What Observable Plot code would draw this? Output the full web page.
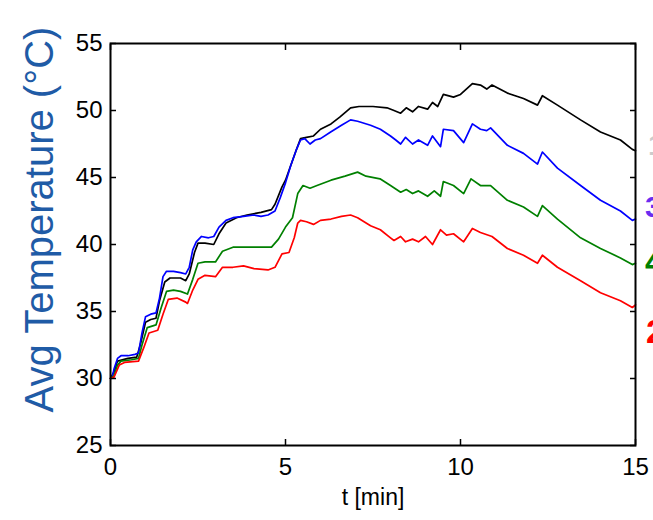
<!DOCTYPE html>
<html>
<head>
<meta charset="utf-8">
<script src="https://cdn.jsdelivr.net/npm/d3@7"></script>
<script src="https://cdn.jsdelivr.net/npm/@observablehq/plot@0.6"></script>
<style>
  html, body { margin: 0; padding: 0; background: #fff; }
  #wrap { position: relative; width: 653px; height: 520px; overflow: hidden; font-family: Arial, "Liberation Sans", sans-serif; }
  .frag { position: absolute; font-weight: bold; line-height: 1; white-space: nowrap; }
</style>
</head>
<body>
<div id="wrap"></div>
<script>
// ---- data ----
const xLabel = "t [min]";
const yLabel = "Avg Temperature (°C)";
const xTicks = [0, 5, 10, 15];
const yTicks = [25, 30, 35, 40, 45, 50, 55];
const seriesNames = ["black", "blue", "green", "red"];

const blackT = [0,0.1,0.2,0.5,0.75,0.85,1.0,1.15,1.3,1.4,1.55,1.7,2.0,2.15,2.25,2.4,2.5,2.7,2.95,3.1,3.3,3.6,3.9,4.3,4.6,4.7,4.9,5.0,5.15,5.3,5.43,5.6,5.8,6.0,6.3,6.55,6.86,7.1,7.5,7.9,8.1,8.29,8.45,8.63,8.8,9.06,9.2,9.35,9.51,9.8,10.0,10.34,10.57,10.75,10.9,11.34,11.8,12.2,12.34,12.77,13.43,14.0,14.57,14.91,15.0];
const blackV = [30.0,30.5,31.3,31.5,31.6,32.5,34.2,34.4,34.5,35.8,37.2,37.5,37.5,37.3,37.8,39.4,40.1,40.1,40.0,40.8,41.6,42.0,42.2,42.4,42.6,43.0,44.3,44.8,45.9,47.0,47.9,48.0,48.1,48.6,49.0,49.5,50.2,50.3,50.3,50.2,50.0,49.8,50.2,49.9,50.3,50.1,50.6,50.3,51.2,51.0,51.2,52.0,51.9,51.6,51.9,51.3,50.9,50.4,51.1,50.4,49.3,48.4,47.8,47.1,47.0];

const blueT = [0,0.05,0.1,0.2,0.3,0.5,0.7,0.8,0.9,1.0,1.15,1.3,1.4,1.5,1.6,1.8,2.0,2.15,2.25,2.35,2.45,2.6,2.8,2.95,3.1,3.3,3.5,3.8,4.1,4.3,4.5,4.7,4.85,5.0,5.15,5.3,5.43,5.55,5.7,5.85,6.0,6.29,6.6,6.86,7.06,7.43,7.71,8.0,8.15,8.29,8.43,8.63,8.8,9.06,9.2,9.43,9.51,9.8,10.09,10.34,10.57,10.75,10.86,11.34,11.8,12.2,12.26,12.34,12.77,13.43,14.0,14.57,14.91,15.0];
const blueV = [30.0,30.1,30.7,31.5,31.7,31.7,31.8,31.9,33.4,34.6,34.8,34.9,36.0,37.6,38.0,38.0,37.9,37.8,38.3,39.6,40.2,40.6,40.5,40.6,41.3,41.8,42.0,42.1,42.2,42.1,42.2,42.5,43.5,44.6,45.9,47.0,47.8,47.9,47.5,47.8,47.9,48.4,48.9,49.3,49.2,48.9,48.6,48.1,47.8,47.5,48.0,47.5,47.8,47.4,48.1,47.3,48.6,48.5,47.6,49.0,48.6,48.5,48.7,47.4,46.8,46.0,46.4,46.9,45.7,44.4,43.3,42.5,41.8,41.9];

const greenT = [0,0.1,0.2,0.3,0.6,0.8,0.9,1.05,1.3,1.45,1.6,1.8,2.0,2.2,2.35,2.5,2.7,3.0,3.2,3.5,3.9,4.3,4.6,4.8,5.0,5.2,5.35,5.5,5.7,5.9,6.3,6.7,7.06,7.3,7.7,8.0,8.29,8.45,8.63,8.8,9.06,9.25,9.43,9.51,9.8,10.09,10.3,10.57,10.86,11.34,11.8,12.2,12.34,12.77,13.43,14.0,14.57,14.91,15.0];
const greenV = [30.0,30.2,31.0,31.3,31.4,31.5,32.5,33.8,34.0,35.3,36.5,36.6,36.5,36.3,37.4,38.6,38.7,38.7,39.5,39.8,39.8,39.8,39.8,40.4,41.3,42.0,43.8,44.4,44.2,44.4,44.8,45.1,45.4,45.1,44.9,44.4,43.9,44.1,43.8,44.0,43.6,44.0,43.6,44.7,44.4,43.8,44.9,44.4,44.4,43.3,42.8,42.1,42.9,41.9,40.5,39.7,39.0,38.5,38.6];

const redT = [0,0.1,0.25,0.4,0.8,0.95,1.1,1.35,1.5,1.65,1.9,2.15,2.2,2.35,2.5,2.7,3.0,3.2,3.5,3.8,4.1,4.5,4.7,4.9,5.1,5.25,5.35,5.43,5.6,5.8,6.0,6.3,6.6,6.86,7.06,7.43,7.71,8.0,8.1,8.29,8.43,8.63,8.8,9.0,9.2,9.43,9.6,9.8,10.09,10.34,10.57,10.9,11.34,11.8,12.2,12.34,12.77,13.43,14.0,14.57,14.91,15.0];
const redV = [30.0,30.1,31.0,31.2,31.3,32.3,33.4,33.6,34.8,35.9,36.0,35.7,35.6,36.6,37.4,37.7,37.6,38.3,38.3,38.4,38.2,38.1,38.3,39.3,39.4,40.5,41.6,41.8,41.7,41.5,41.8,41.9,42.1,42.2,42.0,41.4,41.1,40.5,40.3,40.6,40.2,40.4,40.2,40.6,40.0,41.1,40.7,40.8,40.2,41.2,40.9,40.6,39.7,39.2,38.6,39.2,38.3,37.3,36.4,35.8,35.3,35.5];

const legendLabels = ["1", "3", "4", "2"];

// ---- build table ----
const rows = [];
const pairs = [[blackT, blackV], [blueT, blueV], [greenT, greenV], [redT, redV]];
pairs.forEach(([ts, vs], i) => ts.forEach((t, j) => rows.push({series: seriesNames[i], t, v: vs[j]})));

const colorMap = {black: "#000000", blue: "#0000ff", green: "#008000", red: "#ff0000"};
const font = "Arial, 'Liberation Sans', sans-serif";

const chart = Plot.plot({
  width: 653,
  height: 520,
  marginLeft: 110,
  marginRight: 18,
  marginTop: 43,
  marginBottom: 75,
  style: {fontFamily: font, background: "#fff", color: "#000"},
  x: {domain: [0, 15], ticks: xTicks},
  y: {domain: [25, 55], ticks: yTicks},
  marks: [
    Plot.line(rows, {x: "t", y: "v", z: "series", stroke: d => colorMap[d.series], strokeWidth: 1.7}),
    Plot.frame({stroke: "#000", strokeWidth: 2}),
    Plot.axisX(xTicks, {anchor: "bottom", tickSize: 0, tickPadding: 12, fontSize: 24, label: null}),
    Plot.axisX(xTicks, {anchor: "bottom", tickSize: -6, tickFormat: () => "", label: null, strokeWidth: 1.5}),
    Plot.axisX(xTicks, {anchor: "top", tickSize: -6, tickFormat: () => "", label: null, strokeWidth: 1.5}),
    Plot.axisY(yTicks, {anchor: "left", tickSize: 0, tickPadding: 8, fontSize: 24, label: null}),
    Plot.axisY(yTicks, {anchor: "left", tickSize: -6, tickFormat: () => "", label: null, strokeWidth: 1.5}),
    Plot.axisY(yTicks, {anchor: "right", tickSize: -6, tickFormat: () => "", label: null, strokeWidth: 1.5}),
    Plot.text([xLabel], {frameAnchor: "bottom", dy: 52, lineAnchor: "middle", fontSize: 23, fill: "#000", text: d => d}),
    Plot.text([yLabel], {frameAnchor: "left", dx: -70, dy: -25, rotate: -90, textAnchor: "middle", lineAnchor: "middle", fontSize: 40, fill: "#1f5ba6", text: d => d})
  ]
});

const wrap = document.getElementById("wrap");
wrap.appendChild(chart);

// cut-off legend labels at right edge
const fragColors = ["#cccccc", "#6a2cf0", "#008000", "#ff0000"];
const fragTops = [130, 192, 244, 314];
const fragLefts = [648, 645, 645, 646];
const fragSizes = [30, 30, 34, 34];
legendLabels.forEach((s, i) => {
  const d = document.createElement("div");
  d.className = "frag";
  d.textContent = s;
  d.style.color = fragColors[i];
  d.style.top = fragTops[i] + "px";
  d.style.left = fragLefts[i] + "px";
  d.style.fontSize = fragSizes[i] + "px";
  wrap.appendChild(d);
});
</script>
</body>
</html>
